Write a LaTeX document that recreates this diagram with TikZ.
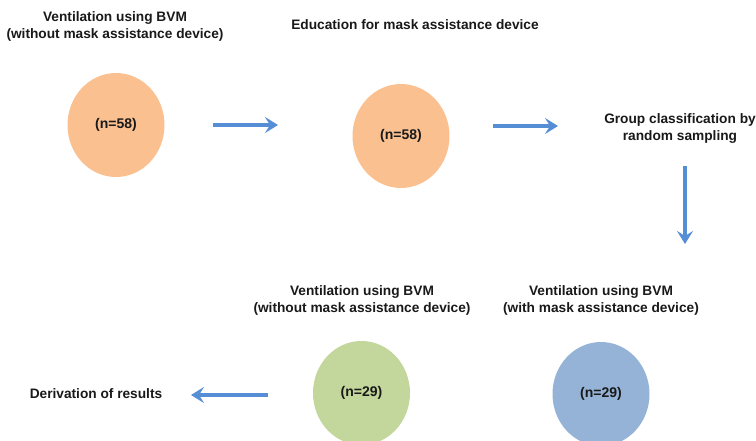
\documentclass[tikz,border=0pt]{standalone}
\usepackage{fontspec}
\setmainfont{Liberation Sans}
\usetikzlibrary{arrows.meta,shapes.geometric}
\definecolor{orangefill}{HTML}{FAC090}
\definecolor{greenfill}{HTML}{C3D69B}
\definecolor{bluefill}{HTML}{95B3D7}
\definecolor{arrowblue}{HTML}{558ED5}
\tikzset{
  lbl/.style={font=\bfseries\fontsize{13.7}{17}\selectfont, align=center, text=black!90, inner sep=0pt},
  blob/.style={ellipse, draw=none, minimum width=97pt, minimum height=104pt, inner sep=0pt,
    font=\bfseries\fontsize{14}{16}\selectfont, text=black!90},
  flow/.style={draw=arrowblue, line width=3.4pt, -{Stealth[length=13pt,width=16pt,inset=5pt]}}
}
\begin{document}
\begin{tikzpicture}[x=1pt,y=-1pt]
\useasboundingbox (0,0) rectangle (756,440);
\clip (0,0) rectangle (756,440);
\node[lbl] (t1) at (115,26) {Ventilation using BVM\\(without mask assistance device)};
\node[lbl] (t2) at (415,25) {Education for mask assistance device};
\node[blob, fill=orangefill] (c1) at (116,125) {(n=58)};
\node[blob, fill=orangefill] (c2) at (401,136) {(n=58)};
\node[lbl] (g) at (680,128) {Group classification by\\random sampling};
\node[lbl] (t3) at (362,300) {Ventilation using BVM\\(without mask assistance device)};
\node[lbl] (t4) at (601,300) {Ventilation using BVM\\(with mask assistance device)};
\node[blob, fill=greenfill] (c3) at (361.5,393) {(n=29)};
\node[blob, fill=bluefill] (c4) at (601,394) {(n=29)};
\node[lbl] (d) at (96,394) {Derivation of results};
\coordinate (a1s) at (213,125);
\coordinate (a1e) at (278,125);
\coordinate (a2s) at (493,126);
\coordinate (a2e) at (558,126);
\coordinate (a3s) at (685,166);
\coordinate (a3e) at (685,244);
\coordinate (a4s) at (268,395);
\coordinate (a4e) at (191,395);
\draw[flow] (a1s) -- (a1e);
\draw[flow] (a2s) -- (a2e);
\draw[flow] (a3s) -- (a3e);
\draw[flow] (a4s) -- (a4e);
\end{tikzpicture}
\end{document}
